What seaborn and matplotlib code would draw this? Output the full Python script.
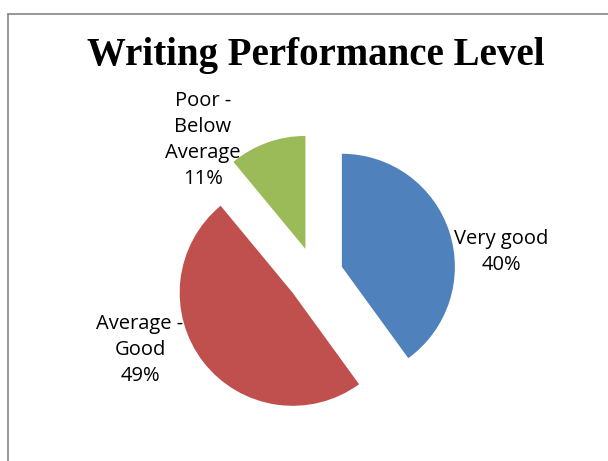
import matplotlib
matplotlib.use("Agg")
import matplotlib.pyplot as plt
import seaborn as sns
from matplotlib.lines import Line2D

categories = ["Very good", "Average -\nGood", "Poor -\nBelow\nAverage"]
percent = [40, 49, 11]
colors = ["#4F81BD", "#C0504D", "#9BBB59"]

sns.set_theme(style="white")
plt.rcParams['font.family'] = ['Open Sans', 'DejaVu Sans']

W, H = 608, 461
R = 113.0            # pie radius in pixels
CX, CY = 315.0, 275.5  # pie centre in pixels (from top-left)

fig = plt.figure(figsize=(W / 100, H / 100), dpi=100)
ax = fig.add_axes([0, 0, 1, 1])

ax.pie(percent, colors=colors, startangle=90, counterclock=False,
       explode=[0.25] * len(percent), radius=1,
       wedgeprops=dict(linewidth=0))
ax.set_xlim(-CX / R, (W - CX) / R)
ax.set_ylim(-(H - CY) / R, CY / R)
ax.set_aspect('equal')
ax.axis('off')

# data labels (pixel positions, Excel-style placement)
label_pos = [(501, 252), (140, 350), (203, 140)]
for cat, val, (px, py) in zip(categories, percent, label_pos):
    fig.text(px / W, 1 - py / H, f"{cat}\n{val}%", ha='center', va='center',
             fontsize=14.5, linespacing=1.4, color='black')

fig.text(316 / W, 1 - 55 / H, "Writing Performance Level", ha='center', va='center',
         fontsize=28, fontweight='bold', color='black',
         family=['Liberation Serif', 'DejaVu Serif'])

# chart area border
fig.add_artist(Line2D([8 / W, 8 / W], [0, 1 - 14 / H], color='#868686', linewidth=1.2,
                      transform=fig.transFigure))
fig.add_artist(Line2D([8 / W, 1], [1 - 14 / H, 1 - 14 / H], color='#868686', linewidth=1.2,
                      transform=fig.transFigure))

fig.savefig("out.png", dpi=100, facecolor='white')
